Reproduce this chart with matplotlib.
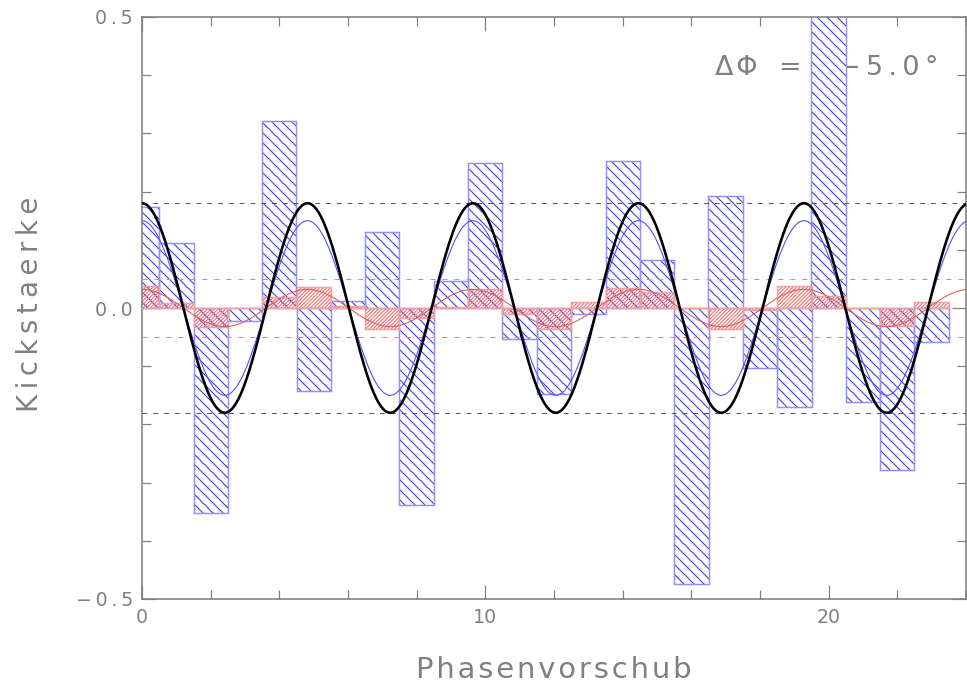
import numpy as np
import matplotlib
matplotlib.use("Agg")
import matplotlib.pyplot as plt
from matplotlib.ticker import MultipleLocator, FixedLocator, FuncFormatter

positions = np.arange(24)
blue_kicks = [0.174, 0.112, -0.352, -0.022, 0.322, -0.143, 0.012, 0.131,
              -0.339, 0.046, 0.249, -0.053, -0.148, -0.010, 0.252, 0.082,
              -0.474, 0.193, -0.103, -0.170, 0.560, -0.162, -0.278, -0.058]
red_kicks = [0.038, 0.009, -0.032, 0.000, 0.019, 0.036, 0.004, -0.036,
             -0.017, 0.002, 0.032, -0.010, -0.036, 0.010, 0.034, 0.027,
             0.000, -0.036, -0.004, 0.037, 0.020, 0.000, -0.031, 0.010]

# fitted cosine curves
period = 4.82
amp_black = 0.18
amp_blue = 0.15
amp_red = 0.032
band_black = 0.18
band_red = 0.05

DPI = 120
PT = 72.0 / DPI          # points per pixel
GRAY = "#808080"
BLUE_HATCH = "#3c3cff"
BLUE_EDGE = "#9090ff"
RED_HATCH = "#ee7070"
RED_EDGE = "#f2a0a0"

plt.rcParams["hatch.linewidth"] = 1.1 * PT
plt.rcParams["lines.scale_dashes"] = False
plt.rcParams["font.family"] = ["DejaVu Sans"]

fig = plt.figure(figsize=(967 / DPI, 685 / DPI), dpi=DPI)
ax = fig.add_axes([142 / 967, 86 / 685, 824 / 967, 582 / 685])

xs = np.linspace(0, 24, 800)
phase = 2 * np.pi * xs / period

# text sits below the bars (bar 20 covers part of it)
def px2data(px, py):
    return (px - 142) / 824 * 24, 0.5 - (py - 17) / 582

tx, ty = px2data(715, 75)
ax.text(tx, ty, "Δ\u200aΦ", fontsize=27 * PT, color=GRAY, va="baseline", ha="left", zorder=1)
tx, ty = px2data(789, 75)
ax.text(tx, ty, "=", fontsize=27 * PT, color=GRAY, va="baseline", ha="center", zorder=1)
tx, ty = px2data(838, 75)
ax.text(tx, ty, "−\u20095\u2009.\u20090\u2009°", fontsize=27 * PT, color=GRAY,
        va="baseline", ha="left", zorder=1)

# blue bars: white face + hatch, then light outline
ax.bar(positions, blue_kicks, width=1.0, facecolor="white", edgecolor=BLUE_HATCH,
       hatch="\\" * 4, linewidth=0, zorder=2)
ax.bar(positions, blue_kicks, width=1.0, fill=False, edgecolor=BLUE_EDGE,
       linewidth=1.5 * PT, zorder=2.1)
# red bars: hatch only, drawn on top
ax.bar(positions, red_kicks, width=1.0, fill=False, edgecolor=RED_HATCH,
       hatch="/" * 11, linewidth=0, zorder=2.5)
ax.bar(positions, red_kicks, width=1.0, fill=False, edgecolor=RED_EDGE,
       linewidth=1.5 * PT, zorder=2.6)

# tolerance bands
for b in (band_black, -band_black):
    ax.axhline(b, color="#555555", linewidth=1.0 * PT, linestyle=(0, (4 * PT * 1.2, 5 * PT * 1.2)), zorder=3)
for b in (band_red, -band_red):
    ax.axhline(b, color="#f08080", linewidth=1.0 * PT, linestyle=(0, (4 * PT * 1.2, 6 * PT * 1.2)), zorder=3)

ax.plot(xs, amp_red * np.cos(phase), color="#e06060", linewidth=1.1 * PT, zorder=4)
ax.plot(xs, amp_blue * np.cos(phase), color="#5050ff", linewidth=1.1 * PT, zorder=4)
ax.plot(xs, amp_black * np.cos(phase), color="black", linewidth=2.6 * PT, zorder=5)

ax.set_xlim(0, 24)
ax.set_ylim(-0.5, 0.5)

ax.xaxis.set_major_locator(MultipleLocator(10))
ax.xaxis.set_minor_locator(MultipleLocator(2))
ax.yaxis.set_major_locator(FixedLocator([-0.5, 0.0, 0.5]))
ax.yaxis.set_minor_locator(MultipleLocator(0.1))
ax.yaxis.set_major_formatter(FuncFormatter(lambda v, p: "\u2009".join("%.1f" % v).replace("-", "−")))

ax.tick_params(which="both", direction="in", top=True, right=True, color=GRAY,
               width=1.2 * PT, labelcolor=GRAY, labelsize=19 * PT, pad=9 * PT)
ax.tick_params(which="major", length=14 * PT)
ax.tick_params(which="minor", length=9 * PT)
for s in ax.spines.values():
    s.set_color(GRAY)
    s.set_linewidth(1.6 * PT)

fig.text(30 / 967, 1 - 304 / 685, "\u2009".join("Kickstaerke"), rotation=90,
         fontsize=27.5 * PT, color=GRAY, ha="center", va="center")
fig.text(554 / 967, 1 - 678 / 685, "\u200a".join("Phasenvorschub"),
         fontsize=29 * PT, color=GRAY, ha="center", va="baseline")

fig.savefig("out.png", dpi=DPI)
